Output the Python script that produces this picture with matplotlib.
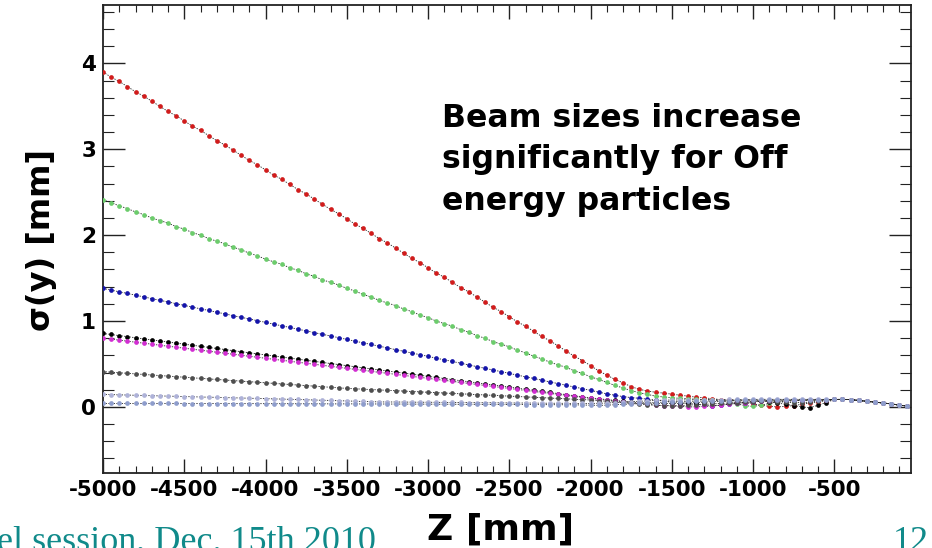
import matplotlib
matplotlib.use("Agg")
import matplotlib.pyplot as plt
from matplotlib.ticker import MultipleLocator

# ---------------- data ----------------
Z_MM = [
    -5000, -4950, -4900, -4850, -4800, -4750, -4700, -4650, -4600, -4550,
    -4500, -4450, -4400, -4350, -4300, -4250, -4200, -4150, -4100, -4050,
    -4000, -3950, -3900, -3850, -3800, -3750, -3700, -3650, -3600, -3550,
    -3500, -3450, -3400, -3350, -3300, -3250, -3200, -3150, -3100, -3050,
    -3000, -2950, -2900, -2850, -2800, -2750, -2700, -2650, -2600, -2550,
    -2500, -2450, -2400, -2350, -2300, -2250, -2200, -2150, -2100, -2050,
    -2000, -1950, -1900, -1850, -1800, -1750, -1700, -1650, -1600, -1550,
    -1500, -1450, -1400, -1350, -1300, -1250, -1200, -1150, -1100, -1050,
    -1000, -950, -900, -850, -800, -750, -700, -650, -600, -550,
    -500, -450, -400, -350, -300, -250, -200, -150, -100, -50,
]

SIGMA_RED = [
    3.90, 3.84, 3.79, 3.73, 3.67, 3.62, 3.56, 3.50, 3.44, 3.39,
    3.33, 3.27, 3.22, 3.16, 3.10, 3.05, 2.99, 2.93, 2.87, 2.82,
    2.76, 2.70, 2.65, 2.59, 2.53, 2.48, 2.42, 2.36, 2.30, 2.25,
    2.19, 2.13, 2.08, 2.02, 1.96, 1.91, 1.85, 1.79, 1.73, 1.68,
    1.62, 1.56, 1.51, 1.45, 1.39, 1.34, 1.28, 1.22, 1.16, 1.11,
    1.05, 0.99, 0.94, 0.88, 0.82, 0.77, 0.71, 0.65, 0.59, 0.54,
    0.48, 0.42, 0.37, 0.32, 0.28, 0.235, 0.205, 0.185, 0.17, 0.16,
    0.148, 0.136, 0.125, 0.113, 0.105, 0.095, 0.085, 0.075, 0.065, 0.05,
    0.035, 0.02, 0.005, 0.0, 0.005, 0.015, 0.03, 0.045, 0.06, 0.072,
    0.086, 0.088, 0.084, 0.075, 0.065, 0.055, 0.045, 0.035, 0.02, 0.01,
]

SIGMA_GREEN = [
    2.41, 2.38, 2.34, 2.31, 2.27, 2.24, 2.20, 2.17, 2.14, 2.10,
    2.07, 2.03, 2.00, 1.96, 1.93, 1.90, 1.86, 1.83, 1.79, 1.76,
    1.72, 1.69, 1.66, 1.62, 1.59, 1.55, 1.52, 1.48, 1.45, 1.42,
    1.38, 1.35, 1.31, 1.28, 1.24, 1.21, 1.18, 1.14, 1.11, 1.07,
    1.04, 1.00, 0.97, 0.94, 0.90, 0.87, 0.83, 0.80, 0.76, 0.73,
    0.70, 0.66, 0.63, 0.59, 0.56, 0.52, 0.49, 0.46, 0.42, 0.39,
    0.35, 0.32, 0.285, 0.25, 0.22, 0.19, 0.165, 0.145, 0.125, 0.115,
    0.105, 0.10, 0.095, 0.09, 0.085, 0.08, 0.07, 0.055, 0.035, 0.015,
    0.005, 0.02, 0.04, 0.055, 0.065, 0.07, 0.075, 0.08, 0.08, 0.082,
    0.086, 0.088, 0.084, 0.075, 0.065, 0.055, 0.045, 0.035, 0.02, 0.01,
]

SIGMA_BLUE = [
    1.380, 1.360, 1.340, 1.321, 1.301, 1.281, 1.261, 1.241, 1.222, 1.202,
    1.182, 1.162, 1.142, 1.123, 1.103, 1.083, 1.063, 1.043, 1.024, 1.004,
    0.984, 0.964, 0.944, 0.925, 0.905, 0.885, 0.865, 0.845, 0.826, 0.806,
    0.786, 0.766, 0.746, 0.727, 0.707, 0.687, 0.667, 0.647, 0.628, 0.608,
    0.588, 0.568, 0.548, 0.529, 0.509, 0.489, 0.469, 0.449, 0.430, 0.410,
    0.390, 0.370, 0.350, 0.331, 0.311, 0.291, 0.271, 0.251, 0.232, 0.212,
    0.192, 0.172, 0.152, 0.135, 0.12, 0.108, 0.10, 0.09, 0.08, 0.07,
    0.06, 0.05, 0.04, 0.03, 0.02, 0.015, 0.02, 0.03, 0.04, 0.05,
    0.06, 0.07, 0.075, 0.08, 0.08, 0.08, 0.08, 0.08, 0.08, 0.082,
    0.086, 0.088, 0.084, 0.075, 0.065, 0.055, 0.045, 0.035, 0.02, 0.01,
]

SIGMA_BLACK = [
    0.855, 0.843, 0.830, 0.818, 0.805, 0.793, 0.780, 0.768, 0.755, 0.743,
    0.730, 0.718, 0.705, 0.693, 0.680, 0.668, 0.655, 0.643, 0.630, 0.618,
    0.605, 0.593, 0.580, 0.568, 0.555, 0.543, 0.530, 0.518, 0.505, 0.493,
    0.480, 0.468, 0.455, 0.443, 0.430, 0.418, 0.405, 0.393, 0.380, 0.368,
    0.355, 0.343, 0.330, 0.318, 0.305, 0.293, 0.280, 0.268, 0.255, 0.243,
    0.230, 0.218, 0.205, 0.193, 0.180, 0.168, 0.155, 0.143, 0.130, 0.118,
    0.105, 0.095, 0.085, 0.075, 0.065, 0.055, 0.05, 0.045, 0.04, 0.04,
    0.04, 0.04, 0.045, 0.05, 0.055, 0.06, 0.065, 0.07, 0.075, 0.08,
    0.08, 0.075, 0.06, 0.045, 0.03, 0.015, 0.0, -0.01, 0.02, 0.05,
    0.086, 0.088, 0.084, 0.075, 0.065, 0.055, 0.045, 0.035, 0.02, 0.01,
]

SIGMA_MAGENTA = [
    0.800, 0.788, 0.777, 0.765, 0.753, 0.742, 0.730, 0.718, 0.706, 0.695,
    0.683, 0.671, 0.660, 0.648, 0.636, 0.625, 0.613, 0.601, 0.589, 0.578,
    0.566, 0.554, 0.543, 0.531, 0.519, 0.508, 0.496, 0.484, 0.472, 0.461,
    0.449, 0.437, 0.426, 0.414, 0.402, 0.391, 0.379, 0.367, 0.355, 0.344,
    0.332, 0.320, 0.309, 0.297, 0.285, 0.274, 0.262, 0.250, 0.238, 0.227,
    0.215, 0.203, 0.192, 0.180, 0.168, 0.157, 0.145, 0.133, 0.121, 0.110,
    0.098, 0.088, 0.078, 0.07, 0.06, 0.05, 0.04, 0.03, 0.02, 0.015,
    0.01, 0.005, 0.0, 0.0, 0.005, 0.01, 0.02, 0.03, 0.04, 0.05,
    0.06, 0.065, 0.07, 0.07, 0.07, 0.075, 0.075, 0.08, 0.08, 0.082,
    0.086, 0.088, 0.084, 0.075, 0.065, 0.055, 0.045, 0.035, 0.02, 0.01,
]

SIGMA_GRAY = [
    0.410, 0.404, 0.397, 0.391, 0.384, 0.378, 0.371, 0.365, 0.358, 0.352,
    0.345, 0.339, 0.332, 0.326, 0.319, 0.313, 0.306, 0.300, 0.293, 0.287,
    0.280, 0.274, 0.267, 0.261, 0.254, 0.248, 0.241, 0.235, 0.228, 0.222,
    0.215, 0.211, 0.206, 0.202, 0.197, 0.193, 0.188, 0.184, 0.179, 0.175,
    0.170, 0.166, 0.161, 0.157, 0.152, 0.148, 0.143, 0.139, 0.134, 0.130,
    0.125, 0.121, 0.116, 0.112, 0.107, 0.103, 0.098, 0.094, 0.089, 0.085,
    0.080, 0.072, 0.064, 0.056, 0.048, 0.04, 0.032, 0.025, 0.02, 0.015,
    0.015, 0.015, 0.02, 0.025, 0.03, 0.035, 0.04, 0.045, 0.05, 0.055,
    0.06, 0.065, 0.065, 0.06, 0.055, 0.05, 0.05, 0.055, 0.065, 0.075,
    0.086, 0.088, 0.084, 0.075, 0.065, 0.055, 0.045, 0.035, 0.02, 0.01,
]

SIGMA_LIGHT1 = [
    0.145, 0.143, 0.140, 0.138, 0.135, 0.133, 0.130, 0.128, 0.125, 0.123,
    0.120, 0.118, 0.115, 0.113, 0.111, 0.108, 0.106, 0.103, 0.101, 0.098,
    0.096, 0.093, 0.091, 0.088, 0.086, 0.083, 0.080, 0.077, 0.075, 0.072,
    0.069, 0.066, 0.063, 0.061, 0.058, 0.057, 0.057, 0.056, 0.055, 0.054,
    0.054, 0.053, 0.052, 0.051, 0.051, 0.050, 0.049, 0.048, 0.048, 0.047,
    0.046, 0.045, 0.045, 0.044, 0.043, 0.042, 0.042, 0.041, 0.040, 0.040,
    0.040, 0.042, 0.045, 0.05, 0.055, 0.06, 0.065, 0.07, 0.075, 0.078,
    0.08, 0.08, 0.082, 0.083, 0.084, 0.085, 0.085, 0.086, 0.086, 0.087,
    0.087, 0.088, 0.088, 0.088, 0.088, 0.088, 0.088, 0.088, 0.088, 0.087,
    0.086, 0.088, 0.084, 0.075, 0.065, 0.055, 0.045, 0.035, 0.02, 0.01,
]

SIGMA_LIGHT2 = [
    0.040, 0.040, 0.040, 0.040, 0.040, 0.040, 0.040, 0.040, 0.040, 0.040,
    0.039, 0.039, 0.039, 0.039, 0.039, 0.038, 0.038, 0.038, 0.038, 0.038,
    0.037, 0.037, 0.037, 0.037, 0.036, 0.036, 0.036, 0.036, 0.035, 0.035,
    0.035, 0.035, 0.034, 0.034, 0.034, 0.033, 0.033, 0.033, 0.032, 0.032,
    0.032, 0.031, 0.031, 0.031, 0.030, 0.030, 0.030, 0.029, 0.029, 0.029,
    0.028, 0.028, 0.027, 0.027, 0.026, 0.026, 0.025, 0.025, 0.024, 0.022,
    0.02, 0.018, 0.02, 0.025, 0.03, 0.035, 0.04, 0.045, 0.05, 0.055,
    0.06, 0.062, 0.064, 0.066, 0.068, 0.07, 0.072, 0.074, 0.075, 0.076,
    0.077, 0.078, 0.079, 0.08, 0.08, 0.08, 0.08, 0.08, 0.08, 0.082,
    0.086, 0.088, 0.084, 0.075, 0.065, 0.055, 0.045, 0.035, 0.02, 0.01,
]

SERIES = [SIGMA_RED, SIGMA_GREEN, SIGMA_BLUE, SIGMA_BLACK, SIGMA_MAGENTA,
          SIGMA_GRAY, SIGMA_LIGHT1, SIGMA_LIGHT2]
COLORS = ["#d01c1c", "#6ccc6c", "#1414aa", "#000000", "#d22ed2",
          "#4e4e4e", "#aeb2d8", "#8e9dcc"]

X_TICKS_MAJOR = 500
X_TICKS_MINOR = 100
Y_TICKS_MAJOR = 1
Y_TICKS_MINOR = 0.2

NOTE_LINES = ["Beam sizes increase", "significantly for Off", "energy particles"]

# ---------------- figure ----------------
W, H, DPI = 932, 548, 100
fig = plt.figure(figsize=(W / DPI, H / DPI), dpi=DPI, facecolor="white")


def fx(px):
    return px / W


def fy(py):
    return 1 - py / H


ax = fig.add_axes([fx(103), fy(473), fx(911) - fx(103), fy(5) - fy(473)])

for vals, col in zip(SERIES, COLORS):
    ax.plot(Z_MM, vals, color="#222222", lw=0.6, ls=(0, (1.6, 1.6)), zorder=2)
    ax.plot(Z_MM, vals, ls="none", marker="o", ms=3.4, mew=0,
            color=col, zorder=3)

ax.set_xlim(-5000, -28)
ax.set_ylim(-0.77, 4.68)

ax.xaxis.set_major_locator(MultipleLocator(X_TICKS_MAJOR))
ax.xaxis.set_minor_locator(MultipleLocator(X_TICKS_MINOR))
ax.yaxis.set_major_locator(MultipleLocator(Y_TICKS_MAJOR))
ax.yaxis.set_minor_locator(MultipleLocator(Y_TICKS_MINOR))
ax.xaxis.set_major_formatter(plt.FuncFormatter(lambda v, p: f"{int(round(v))}"))
ax.yaxis.set_major_formatter(plt.FuncFormatter(lambda v, p: f"{int(round(v))}"))

ax.tick_params(axis="both", which="both", direction="in", top=True,
               right=True, colors="#222222")
ax.tick_params(axis="x", which="major", length=10, width=1.0, pad=5)
ax.tick_params(axis="x", which="minor", length=5, width=0.8)
ax.tick_params(axis="y", which="major", length=16, width=1.0, pad=5)
ax.tick_params(axis="y", which="minor", length=8, width=0.8)
for lab in ax.get_xticklabels() + ax.get_yticklabels():
    lab.set_fontfamily("DejaVu Sans")
    lab.set_fontweight("bold")
    lab.set_fontsize(15.5)
    lab.set_color("black")

for sp in ax.spines.values():
    sp.set_linewidth(1.3)
    sp.set_color("#222222")

# axis titles
fig.text(fx(42), fy(240), "σ(y) [mm]", rotation=90, ha="center", va="center",
         fontsize=23, fontweight="bold", family="DejaVu Sans", color="black")
fig.text(fx(501), fy(540), "Z [mm]", ha="center", va="baseline",
         fontsize=26, fontweight="bold", family="DejaVu Sans", color="black")

# annotation
for line, base in zip(NOTE_LINES, [126.7, 168.4, 209.8]):
    fig.text(fx(442), fy(base), line, ha="left", va="baseline",
             fontsize=22.7, fontweight="bold", family="DejaVu Sans",
             color="black")

# slide footer remnants
fig.text(fx(-3), fy(551), "el session, Dec. 15th 2010", ha="left",
         va="baseline", fontsize=26, family="Liberation Serif",
         color="#108a8a")
fig.text(fx(893), fy(551), "12", ha="left", va="baseline", fontsize=26,
         family="Liberation Serif", color="#108a8a")

fig.savefig("out.png", dpi=DPI, facecolor="white")
